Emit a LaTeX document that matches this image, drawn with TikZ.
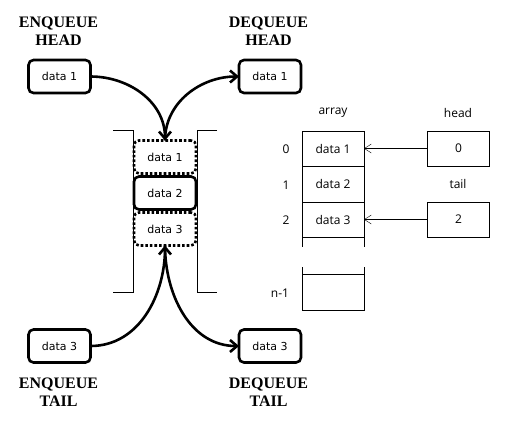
\documentclass[tikz,border=0pt]{standalone}
\usepackage{fontspec}
\setmainfont{Liberation Serif}
\newfontfamily\boxfont{DejaVu Sans}
\newfontfamily\arrfont{Open Sans}
\usetikzlibrary{arrows.meta,positioning,calc}
\tikzset{
	queue diagram/.style={
		x=1pt, y=-1pt,
		every node/.style={outer sep=0pt},
		ar/.style={-{Straight Barb[length=7pt,width=12pt]}, line width=2.6pt},
		arr/.style={-{Straight Barb[length=7pt,width=9pt]}, thin}
		},
	qbox/.style={draw, line width=2.6pt, rounded corners=5pt,
		minimum width=62pt, minimum height=33pt, inner sep=0pt,
		font=\boxfont\fontsize{11}{13}\selectfont},
	qslot/.style={qbox, dash pattern=on 2.6pt off 2pt},
	qname/.style={align=center, inner sep=0pt,
		font=\bfseries\fontsize{16}{17.5}\selectfont},
	cell/.style={draw, thin, minimum width=62pt, minimum height=35.5pt, inner sep=0pt,
		font=\arrfont\fontsize{12}{14}\selectfont},
	clabel/.style={inner sep=0pt, font=\arrfont\fontsize{12}{14}\selectfont}
}

\begin{document}
\begin{tikzpicture}[queue diagram]
   \useasboundingbox (0,0) rectangle (510,421);
   % enqueue / dequeue boxes
   \node[qbox] (eh) at (59.5,76.5) {data 1};
   \node[qbox] (dh) at (270,76.5) {data 1};
   \node[qbox] (et) at (59.5,346) {data 3};
   \node[qbox] (dt) at (270,346) {data 3};
   \node[qname] at (58.5,31) {ENQUEUE\\HEAD};
   \node[qname] at (268.5,31) {DEQUEUE\\HEAD};
   \node[qname] at (58.5,392) {ENQUEUE\\TAIL};
   \node[qname] at (268.5,392) {DEQUEUE\\TAIL};
   % the queue
   \node[qslot] (s1) at (165,157) {data 1};
   \node[qbox]  (s2) at (165,193) {data 2};
   \node[qslot] (s3) at (165,229) {data 3};
   \draw[thin] (113,130) -- (133,130) -- (133,292) -- (113,292);
   \draw[thin] (217,130) -- (197,130) -- (197,292) -- (217,292);
   \draw[ar] (eh.east) to[out=0,in=90] (s1.north);
   \draw[ar] (s1.north) to[out=90,in=180] (dh.west);
   \draw[ar] (et.east) to[out=0,in=-90] (s3.south);
   \draw[ar] (s3.south) to[out=-90,in=180] (dt.west);
   % array with head and tail
   \node[cell] (c0) at (333,148.5) {data 1};
   \node[cell] (c1) at (333,184) {data 2};
   \node[cell] (c2) at (333,219.5) {data 3};
   \node[cell] (cn) at (333,292) {};
   \draw[thin] (c2.south west) -- +(0,10) (c2.south east) -- +(0,10);
   \draw[thin] (cn.north west) -- +(0,-7) (cn.north east) -- +(0,-7);
   \node[clabel] at (333,113) {array};
   \node[clabel] at (286,149) {0};
   \node[clabel] at (286,185) {1};
   \node[clabel] at (286,220) {2};
   \node[clabel] at (280,293) {n-1};
   \node[cell] (hd) at (458.5,148.5) {0};
   \node[cell] (tl) at (458.5,219.5) {2};
   \node[clabel] at (458,113) {head};
   \node[clabel] at (458,184) {tail};
   \draw[arr] (hd.west) -- (c0.east);
   \draw[arr] (tl.west) -- (c2.east);
\end{tikzpicture}
\end{document}
